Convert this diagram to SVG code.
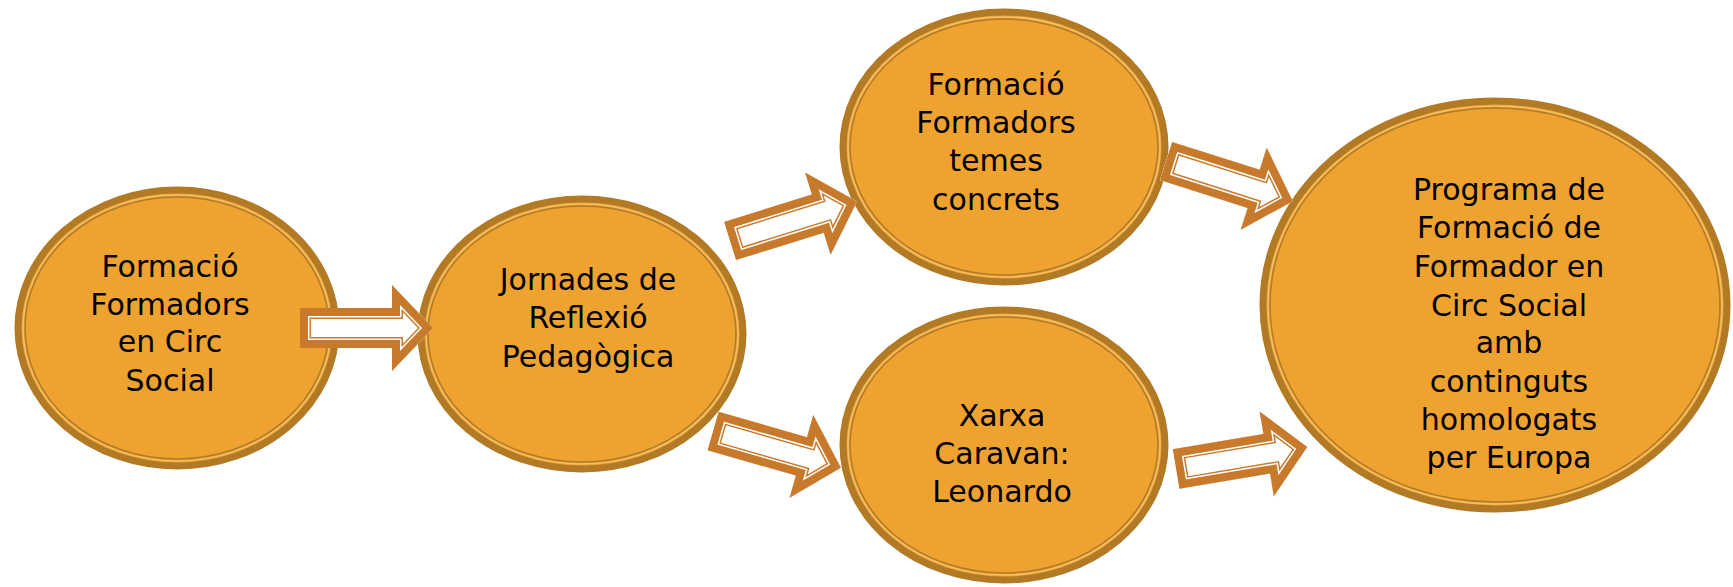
<svg xmlns="http://www.w3.org/2000/svg" xmlns:xlink="http://www.w3.org/1999/xlink" width="1733" height="587" viewBox="0 0 1733 587">
<style>
.o{fill:#EEA331;stroke:#B27A24;stroke-width:7}
.l{fill:none;stroke:#F3BE68;stroke-width:1.5}
.t{fill:none;stroke:#B07A28;stroke-width:1.5}
text{font-family:"DejaVu Sans","Liberation Sans",sans-serif;font-size:30px;fill:#000;text-anchor:middle}
</style>
<defs>
<path id="ap" d="M0,-20 H92 V-43 L133,0 L92,43 V20 H0 Z"/>
<clipPath id="ac"><use xlink:href="#ap"/></clipPath>
<g id="arrow">
<use xlink:href="#ap" fill="#fff"/>
<g clip-path="url(#ac)" fill="none" stroke-linejoin="miter">
<use xlink:href="#ap" stroke="#C87A2C" stroke-width="22"/>
<use xlink:href="#ap" stroke="#fff" stroke-width="19"/>
<use xlink:href="#ap" stroke="#C87A2C" stroke-width="16"/>
</g>
</g>
</defs>
<rect width="1733" height="587" fill="#fff"/>
<g id="n1">
<ellipse class="o" cx="177" cy="328" rx="159" ry="138"/>
<ellipse class="l" cx="177" cy="328" rx="154" ry="133"/>
<ellipse class="t" cx="177" cy="328" rx="152" ry="131"/>
<text x="170" y="277">Formació</text>
<text x="170" y="315">Formadors</text>
<text x="170" y="352">en Circ</text>
<text x="170" y="391">Social</text>
</g>
<g id="n2">
<ellipse class="o" cx="582" cy="334" rx="161" ry="135"/>
<ellipse class="l" cx="582" cy="334" rx="156" ry="130"/>
<ellipse class="t" cx="582" cy="334" rx="154" ry="128"/>
<text x="588" y="290">Jornades de</text>
<text x="588" y="328">Reflexió</text>
<text x="588" y="367">Pedagògica</text>
</g>
<g id="n3">
<ellipse class="o" cx="1004" cy="147" rx="161" ry="135"/>
<ellipse class="l" cx="1004" cy="147" rx="156" ry="130"/>
<ellipse class="t" cx="1004" cy="147" rx="154" ry="128"/>
<text x="996" y="95">Formació</text>
<text x="996" y="133">Formadors</text>
<text x="996" y="171">temes</text>
<text x="996" y="210">concrets</text>
</g>
<g id="n4">
<ellipse class="o" cx="1004" cy="445" rx="161" ry="135"/>
<ellipse class="l" cx="1004" cy="445" rx="156" ry="130"/>
<ellipse class="t" cx="1004" cy="445" rx="154" ry="128"/>
<text x="1002" y="426">Xarxa</text>
<text x="1002" y="464">Caravan:</text>
<text x="1002" y="502">Leonardo</text>
</g>
<g id="n5">
<ellipse class="o" cx="1495" cy="305" rx="232" ry="204"/>
<ellipse class="l" cx="1495" cy="305" rx="227" ry="199"/>
<ellipse class="t" cx="1495" cy="305" rx="225" ry="197"/>
<text x="1509" y="200">Programa de</text>
<text x="1509" y="238">Formació de</text>
<text x="1509" y="277">Formador en</text>
<text x="1509" y="316">Circ Social</text>
<text x="1509" y="353">amb</text>
<text x="1509" y="392">continguts</text>
<text x="1509" y="430">homologats</text>
<text x="1509" y="468">per Europa</text>
</g>
<g id="connectors">
<use xlink:href="#arrow" transform="translate(300,328)"/>
<use xlink:href="#arrow" transform="translate(730,241) rotate(-17.3)"/>
<use xlink:href="#arrow" transform="translate(1166,161) rotate(17.6)"/>
<use xlink:href="#arrow" transform="translate(713,431) rotate(16)"/>
<use xlink:href="#arrow" transform="translate(1176,469) rotate(-9.5)"/>
</g>
</svg>
